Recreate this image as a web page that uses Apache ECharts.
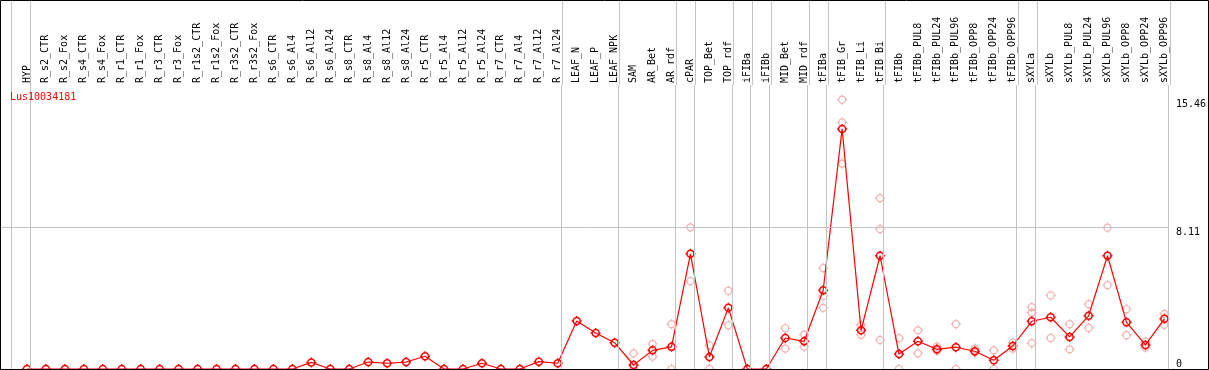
<!DOCTYPE html>
<html>
<head>
<meta charset="utf-8">
<script src="https://cdn.jsdelivr.net/npm/echarts@6/dist/echarts.min.js"></script>
<style>
html, body { margin: 0; padding: 0; background: #fff; }
#chart { width: 1209px; height: 370px; }
</style>
</head>
<body>
<div id="chart"></div>
<script>
// sample names, in plot order
var samples = ['HYP', 'R_s2_CTR', 'R_s2_Fox', 'R_s4_CTR', 'R_s4_Fox', 'R_r1_CTR', 'R_r1_Fox', 'R_r3_CTR', 'R_r3_Fox',
    'R_r1s2_CTR', 'R_r1s2_Fox', 'R_r3s2_CTR', 'R_r3s2_Fox', 'R_s6_CTR', 'R_s6_Al4', 'R_s6_Al12', 'R_s6_Al24',
    'R_s8_CTR', 'R_s8_Al4', 'R_s8_Al12', 'R_s8_Al24', 'R_r5_CTR', 'R_r5_Al4', 'R_r5_Al12', 'R_r5_Al24',
    'R_r7_CTR', 'R_r7_Al4', 'R_r7_Al12', 'R_r7_Al24', 'LEAF_N', 'LEAF_P', 'LEAF_NPK', 'SAM', 'AR_Bet', 'AR_rdf',
    'cPAR', 'TOP_Bet', 'TOP_rdf', 'iFIBa', 'iFIBb', 'MID_Bet', 'MID_rdf', 'tFIBa', 'tFIB_Gr', 'tFIB_Li', 'tFIB_Bi',
    'tFIBb', 'tFIBb_PUL8', 'tFIBb_PUL24', 'tFIBb_PUL96', 'tFIBb_OPP8', 'tFIBb_OPP24', 'tFIBb_OPP96',
    'sXYLa', 'sXYLb', 'sXYLb_PUL8', 'sXYLb_PUL24', 'sXYLb_PUL96', 'sXYLb_OPP8', 'sXYLb_OPP24', 'sXYLb_OPP96'];

// mean expression per sample
var means = [0, 0, 0, 0, 0, 0, 0, 0, 0, 0, 0, 0, 0, 0, 0, 0.38, 0,
    0, 0.4, 0.33, 0.4, 0.73, 0, 0, 0.33, 0, 0, 0.42, 0.33,
    2.76, 2.07, 1.51, 0.23, 1.07, 1.27, 6.61, 0.69, 3.51, 0, 0,
    1.78, 1.59, 4.52, 13.78, 2.22, 6.5,
    0.86, 1.59, 1.13, 1.25, 1.02, 0.5, 1.32,
    2.74, 2.97, 1.84, 3.05, 6.5, 2.68, 1.38, 2.88];

// replicate values: [sample index, value, value, ...]
var replicates = [
    [32, 0.9, 0], [33, 1.44, 0.71], [34, 2.57, 0], [35, 8.13, 5.04], [36, 1.36, 0],
    [37, 4.49, 2.51], [40, 2.34, 1.17], [41, 1.97, 1.28], [42, 5.79, 4.18, 3.51],
    [43, 15.46, 14.15, 11.79], [44, 2.53, 1.96], [45, 9.81, 8.03, 1.67], [46, 1.77, 0],
    [47, 2.22, 0.9], [48, 1.28, 1.05], [49, 2.57, 0], [50, 1.17, 0.95], [51, 1.07, 0],
    [52, 1.51, 1.17], [53, 3.55, 3.24, 1.48], [54, 4.22, 1.78], [55, 2.57, 1.13],
    [56, 3.72, 2.36], [57, 8.11, 4.81], [58, 3.43, 1.94], [59, 1.57, 1.23], [60, 3.16, 2.53]
];

// group separators are drawn just after these sample indices
var sepAfter = [-1, 0, 28, 31, 34, 35, 37, 38, 39, 41, 42, 45, 52, 53, 60];
var yTicks = [0, 8.11, 15.46];
var geneId = 'Lus10034181';

var font = 'DejaVu Sans Mono';
var sepOffset = 3.5 / 19;
var xMin = -26 / 19, xMax = 60 + sepOffset;

var repData = [];
replicates.forEach(function (r) {
    for (var k = 1; k < r.length; k++) repData.push([r[0], r[k]]);
});
var meanData = means.map(function (v, i) { return [i, v]; });
var sepLines = sepAfter.map(function (i) { return { xAxis: i + sepOffset }; });

// circle with four small ticks
var markerPath = 'path://M0,-5L0,-3.5M0,3.5L0,5M-5,0L-3.5,0M3.5,0L5,0' +
    'M-3.5,0C-3.5,-1.93,-1.93,-3.5,0,-3.5C1.93,-3.5,3.5,-1.93,3.5,0' +
    'C3.5,1.93,1.93,3.5,0,3.5C-1.93,3.5,-3.5,1.93,-3.5,0Z';

var myChart = echarts.init(document.getElementById('chart'));
var option = {
    animation: false,
    title: {
        text: geneId,
        left: 10,
        top: 92,
        padding: 0,
        textStyle: { color: '#ff0000', fontFamily: font, fontSize: 10, fontWeight: 'normal' }
    },
    grid: [
        { left: 1, right: 39, top: 85, bottom: 1 },
        { left: 1, right: 39, top: 0, height: 85 }
    ],
    xAxis: [
        {
            type: 'value', gridIndex: 0, position: 'top', min: xMin, max: xMax,
            axisLine: { show: true, lineStyle: { color: '#000', width: 1 } },
            axisTick: { show: false },
            splitLine: { show: false },
            axisLabel: {
                rotate: 90, margin: 2, fontFamily: font, fontSize: 10, color: '#000',
                customValues: samples.map(function (s, i) { return i; }),
                formatter: function (v) { return samples[Math.round(v)] || ''; }
            }
        },
        { type: 'value', gridIndex: 1, min: xMin, max: xMax, show: false }
    ],
    yAxis: [
        {
            type: 'value', gridIndex: 0, position: 'right', min: 0, max: 16.3,
            axisLine: { show: false }, axisTick: { show: false }, splitLine: { show: false },
            axisLabel: {
                customValues: yTicks, margin: 8, fontFamily: font, fontSize: 10, color: '#000',
                verticalAlign: 'top', verticalAlignMinLabel: 'bottom',
                formatter: function (v) { return String(v); }
            }
        },
        { type: 'value', gridIndex: 1, min: 0, max: 1, show: false }
    ],
    graphic: [{
        type: 'rect', z: 100, silent: true,
        shape: { x: 0.5, y: 0.5, width: 1208, height: 369 },
        style: { fill: 'none', stroke: '#000', lineWidth: 1 }
    }],
    series: [
        {
            type: 'scatter', xAxisIndex: 0, yAxisIndex: 0, z: 1,
            data: repData,
            symbol: markerPath, symbolSize: 10,
            itemStyle: { color: 'rgba(0,0,0,0)', borderColor: '#f09a9a', borderWidth: 1.2 },
            markLine: {
                silent: true, symbol: 'none', label: { show: false },
                lineStyle: { color: '#c4c4c4', type: 'solid', width: 1 },
                data: sepLines.concat([{ yAxis: yTicks[1] }])
            }
        },
        {
            type: 'line', xAxisIndex: 0, yAxisIndex: 0, z: 3,
            data: meanData,
            symbol: markerPath, symbolSize: 10, showAllSymbol: true,
            lineStyle: { color: '#ff0000', width: 1.2 },
            itemStyle: { color: 'rgba(0,0,0,0)', borderColor: '#ff0000', borderWidth: 1.5 }
        },
        {
            type: 'line', xAxisIndex: 1, yAxisIndex: 1, data: [],
            markLine: {
                silent: true, symbol: 'none', label: { show: false },
                lineStyle: { color: '#c4c4c4', type: 'solid', width: 1 },
                data: sepLines
            }
        }
    ]
};
myChart.setOption(option);
window.addEventListener('resize', function () { myChart.resize(); });
</script>
</body>
</html>
